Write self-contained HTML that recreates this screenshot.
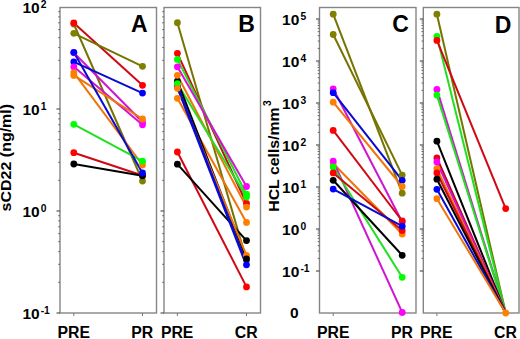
<!DOCTYPE html>
<html><head><meta charset="utf-8"><style>
html,body{margin:0;padding:0;background:#fff;}
svg{display:block;}
</style></head><body>
<svg width="520" height="339" viewBox="0 0 520 339">
<rect width="520" height="339" fill="#fff"/>
<rect x="60" y="7.5" width="96.5" height="305.5" fill="none" stroke="#858585" stroke-width="1.4"/>
<line x1="56.5" y1="313.0" x2="60" y2="313.0" stroke="#555" stroke-width="1.2"/>
<line x1="58.2" y1="282.3" x2="60" y2="282.3" stroke="#666" stroke-width="1"/>
<line x1="58.2" y1="264.3" x2="60" y2="264.3" stroke="#666" stroke-width="1"/>
<line x1="58.2" y1="251.6" x2="60" y2="251.6" stroke="#666" stroke-width="1"/>
<line x1="58.2" y1="241.7" x2="60" y2="241.7" stroke="#666" stroke-width="1"/>
<line x1="58.2" y1="233.6" x2="60" y2="233.6" stroke="#666" stroke-width="1"/>
<line x1="58.2" y1="226.8" x2="60" y2="226.8" stroke="#666" stroke-width="1"/>
<line x1="58.2" y1="220.9" x2="60" y2="220.9" stroke="#666" stroke-width="1"/>
<line x1="58.2" y1="215.7" x2="60" y2="215.7" stroke="#666" stroke-width="1"/>
<line x1="56.5" y1="211.0" x2="60" y2="211.0" stroke="#555" stroke-width="1.2"/>
<line x1="58.2" y1="180.3" x2="60" y2="180.3" stroke="#666" stroke-width="1"/>
<line x1="58.2" y1="162.3" x2="60" y2="162.3" stroke="#666" stroke-width="1"/>
<line x1="58.2" y1="149.6" x2="60" y2="149.6" stroke="#666" stroke-width="1"/>
<line x1="58.2" y1="139.7" x2="60" y2="139.7" stroke="#666" stroke-width="1"/>
<line x1="58.2" y1="131.6" x2="60" y2="131.6" stroke="#666" stroke-width="1"/>
<line x1="58.2" y1="124.8" x2="60" y2="124.8" stroke="#666" stroke-width="1"/>
<line x1="58.2" y1="118.9" x2="60" y2="118.9" stroke="#666" stroke-width="1"/>
<line x1="58.2" y1="113.7" x2="60" y2="113.7" stroke="#666" stroke-width="1"/>
<line x1="56.5" y1="109.0" x2="60" y2="109.0" stroke="#555" stroke-width="1.2"/>
<line x1="58.2" y1="78.3" x2="60" y2="78.3" stroke="#666" stroke-width="1"/>
<line x1="58.2" y1="60.3" x2="60" y2="60.3" stroke="#666" stroke-width="1"/>
<line x1="58.2" y1="47.6" x2="60" y2="47.6" stroke="#666" stroke-width="1"/>
<line x1="58.2" y1="37.7" x2="60" y2="37.7" stroke="#666" stroke-width="1"/>
<line x1="58.2" y1="29.6" x2="60" y2="29.6" stroke="#666" stroke-width="1"/>
<line x1="58.2" y1="22.8" x2="60" y2="22.8" stroke="#666" stroke-width="1"/>
<line x1="58.2" y1="16.9" x2="60" y2="16.9" stroke="#666" stroke-width="1"/>
<line x1="58.2" y1="11.7" x2="60" y2="11.7" stroke="#666" stroke-width="1"/>
<line x1="73.8" y1="313" x2="73.8" y2="316" stroke="#777" stroke-width="1"/>
<line x1="142.5" y1="313" x2="142.5" y2="316" stroke="#777" stroke-width="1"/>
<line x1="73.8" y1="24" x2="142.5" y2="181" stroke="#767400" stroke-width="2.0"/>
<line x1="73.8" y1="23" x2="142.5" y2="85.3" stroke="#d00814" stroke-width="2.0"/>
<line x1="73.8" y1="33.3" x2="142.5" y2="66.3" stroke="#767400" stroke-width="2.0"/>
<line x1="73.8" y1="52.8" x2="142.5" y2="122" stroke="#d014d0" stroke-width="2.0"/>
<line x1="73.8" y1="61.8" x2="142.5" y2="93.1" stroke="#0a0ad0" stroke-width="2.0"/>
<line x1="73.8" y1="66.8" x2="142.5" y2="124.8" stroke="#d014d0" stroke-width="2.0"/>
<line x1="73.8" y1="72.7" x2="142.5" y2="165" stroke="#f07408" stroke-width="2.0"/>
<line x1="73.8" y1="75.4" x2="142.5" y2="119" stroke="#f07408" stroke-width="2.0"/>
<line x1="73.8" y1="124.3" x2="142.5" y2="161.2" stroke="#20e020" stroke-width="2.0"/>
<line x1="73.8" y1="152.7" x2="142.5" y2="175.5" stroke="#d00814" stroke-width="2.0"/>
<line x1="73.8" y1="164" x2="142.5" y2="175.8" stroke="#000000" stroke-width="2.0"/>
<line x1="73.8" y1="52.3" x2="142.5" y2="173" stroke="#0a0ad0" stroke-width="2.0"/>
<circle cx="73.8" cy="24" r="3.4" fill="#808000"/>
<circle cx="73.8" cy="23" r="3.4" fill="#ff0000"/>
<circle cx="73.8" cy="33.3" r="3.4" fill="#808000"/>
<circle cx="73.8" cy="52.8" r="3.4" fill="#ff00ff"/>
<circle cx="73.8" cy="61.8" r="3.4" fill="#0000ff"/>
<circle cx="73.8" cy="66.8" r="3.4" fill="#ff00ff"/>
<circle cx="73.8" cy="72.7" r="3.4" fill="#ff8000"/>
<circle cx="73.8" cy="75.4" r="3.4" fill="#ff8000"/>
<circle cx="73.8" cy="124.3" r="3.4" fill="#00ff00"/>
<circle cx="73.8" cy="152.7" r="3.4" fill="#ff0000"/>
<circle cx="73.8" cy="164" r="3.4" fill="#000000"/>
<circle cx="73.8" cy="52.3" r="3.4" fill="#0000ff"/>
<circle cx="142.5" cy="181" r="3.4" fill="#808000"/>
<circle cx="142.5" cy="85.3" r="3.4" fill="#ff0000"/>
<circle cx="142.5" cy="66.3" r="3.4" fill="#808000"/>
<circle cx="142.5" cy="122" r="3.4" fill="#ff00ff"/>
<circle cx="142.5" cy="93.1" r="3.4" fill="#0000ff"/>
<circle cx="142.5" cy="124.8" r="3.4" fill="#ff00ff"/>
<circle cx="142.5" cy="165" r="3.4" fill="#ff8000"/>
<circle cx="142.5" cy="119" r="3.4" fill="#ff8000"/>
<circle cx="142.5" cy="161.2" r="3.4" fill="#00ff00"/>
<circle cx="142.5" cy="175.5" r="3.4" fill="#ff0000"/>
<circle cx="142.5" cy="175.8" r="3.4" fill="#000000"/>
<circle cx="142.5" cy="173" r="3.4" fill="#0000ff"/>
<rect x="164" y="7.5" width="96.5" height="305.5" fill="none" stroke="#858585" stroke-width="1.4"/>
<line x1="160.5" y1="313.0" x2="164" y2="313.0" stroke="#555" stroke-width="1.2"/>
<line x1="162.2" y1="282.3" x2="164" y2="282.3" stroke="#666" stroke-width="1"/>
<line x1="162.2" y1="264.3" x2="164" y2="264.3" stroke="#666" stroke-width="1"/>
<line x1="162.2" y1="251.6" x2="164" y2="251.6" stroke="#666" stroke-width="1"/>
<line x1="162.2" y1="241.7" x2="164" y2="241.7" stroke="#666" stroke-width="1"/>
<line x1="162.2" y1="233.6" x2="164" y2="233.6" stroke="#666" stroke-width="1"/>
<line x1="162.2" y1="226.8" x2="164" y2="226.8" stroke="#666" stroke-width="1"/>
<line x1="162.2" y1="220.9" x2="164" y2="220.9" stroke="#666" stroke-width="1"/>
<line x1="162.2" y1="215.7" x2="164" y2="215.7" stroke="#666" stroke-width="1"/>
<line x1="160.5" y1="211.0" x2="164" y2="211.0" stroke="#555" stroke-width="1.2"/>
<line x1="162.2" y1="180.3" x2="164" y2="180.3" stroke="#666" stroke-width="1"/>
<line x1="162.2" y1="162.3" x2="164" y2="162.3" stroke="#666" stroke-width="1"/>
<line x1="162.2" y1="149.6" x2="164" y2="149.6" stroke="#666" stroke-width="1"/>
<line x1="162.2" y1="139.7" x2="164" y2="139.7" stroke="#666" stroke-width="1"/>
<line x1="162.2" y1="131.6" x2="164" y2="131.6" stroke="#666" stroke-width="1"/>
<line x1="162.2" y1="124.8" x2="164" y2="124.8" stroke="#666" stroke-width="1"/>
<line x1="162.2" y1="118.9" x2="164" y2="118.9" stroke="#666" stroke-width="1"/>
<line x1="162.2" y1="113.7" x2="164" y2="113.7" stroke="#666" stroke-width="1"/>
<line x1="160.5" y1="109.0" x2="164" y2="109.0" stroke="#555" stroke-width="1.2"/>
<line x1="162.2" y1="78.3" x2="164" y2="78.3" stroke="#666" stroke-width="1"/>
<line x1="162.2" y1="60.3" x2="164" y2="60.3" stroke="#666" stroke-width="1"/>
<line x1="162.2" y1="47.6" x2="164" y2="47.6" stroke="#666" stroke-width="1"/>
<line x1="162.2" y1="37.7" x2="164" y2="37.7" stroke="#666" stroke-width="1"/>
<line x1="162.2" y1="29.6" x2="164" y2="29.6" stroke="#666" stroke-width="1"/>
<line x1="162.2" y1="22.8" x2="164" y2="22.8" stroke="#666" stroke-width="1"/>
<line x1="162.2" y1="16.9" x2="164" y2="16.9" stroke="#666" stroke-width="1"/>
<line x1="162.2" y1="11.7" x2="164" y2="11.7" stroke="#666" stroke-width="1"/>
<line x1="177.4" y1="313" x2="177.4" y2="316" stroke="#777" stroke-width="1"/>
<line x1="246.5" y1="313" x2="246.5" y2="316" stroke="#777" stroke-width="1"/>
<line x1="177.4" y1="22.7" x2="246.5" y2="260" stroke="#767400" stroke-width="2.0"/>
<line x1="177.4" y1="53.3" x2="246.5" y2="203.5" stroke="#d00814" stroke-width="2.0"/>
<line x1="177.4" y1="59.4" x2="246.5" y2="194.2" stroke="#20e020" stroke-width="2.0"/>
<line x1="177.4" y1="66.8" x2="246.5" y2="186.5" stroke="#d014d0" stroke-width="2.0"/>
<line x1="177.4" y1="75.3" x2="246.5" y2="207.1" stroke="#f07408" stroke-width="2.0"/>
<line x1="177.4" y1="83.6" x2="246.5" y2="197.1" stroke="#20e020" stroke-width="2.0"/>
<line x1="177.4" y1="98.3" x2="246.5" y2="222.4" stroke="#f07408" stroke-width="2.0"/>
<line x1="177.4" y1="152" x2="246.5" y2="286.9" stroke="#d00814" stroke-width="2.0"/>
<line x1="177.4" y1="164.2" x2="246.5" y2="240.6" stroke="#000000" stroke-width="2.0"/>
<line x1="177.4" y1="81.2" x2="246.5" y2="258.9" stroke="#000000" stroke-width="2.0"/>
<line x1="177.4" y1="88.3" x2="246.5" y2="255.4" stroke="#f07408" stroke-width="2.0"/>
<line x1="177.4" y1="86.5" x2="246.5" y2="264.8" stroke="#0a0ad0" stroke-width="2.8"/>
<circle cx="177.4" cy="86.5" r="3.4" fill="#0000ff"/>
<circle cx="177.4" cy="81.2" r="3.4" fill="#000000"/>
<circle cx="177.4" cy="22.7" r="3.4" fill="#808000"/>
<circle cx="177.4" cy="53.3" r="3.4" fill="#ff0000"/>
<circle cx="177.4" cy="59.4" r="3.4" fill="#00ff00"/>
<circle cx="177.4" cy="66.8" r="3.4" fill="#ff00ff"/>
<circle cx="177.4" cy="75.3" r="3.4" fill="#ff8000"/>
<circle cx="177.4" cy="83.6" r="3.4" fill="#00ff00"/>
<circle cx="177.4" cy="98.3" r="3.4" fill="#ff8000"/>
<circle cx="177.4" cy="152" r="3.4" fill="#ff0000"/>
<circle cx="177.4" cy="164.2" r="3.4" fill="#000000"/>
<circle cx="177.4" cy="88.3" r="3.4" fill="#ff8000"/>
<circle cx="246.5" cy="255.4" r="3.4" fill="#ff8000"/>
<circle cx="246.5" cy="260" r="3.4" fill="#808000"/>
<circle cx="246.5" cy="203.5" r="3.4" fill="#ff0000"/>
<circle cx="246.5" cy="194.2" r="3.4" fill="#00ff00"/>
<circle cx="246.5" cy="186.5" r="3.4" fill="#ff00ff"/>
<circle cx="246.5" cy="207.1" r="3.4" fill="#ff8000"/>
<circle cx="246.5" cy="197.1" r="3.4" fill="#00ff00"/>
<circle cx="246.5" cy="222.4" r="3.4" fill="#ff8000"/>
<circle cx="246.5" cy="286.9" r="3.4" fill="#ff0000"/>
<circle cx="246.5" cy="240.6" r="3.4" fill="#000000"/>
<circle cx="246.5" cy="258.9" r="3.4" fill="#000000"/>
<circle cx="246.5" cy="264.8" r="3.4" fill="#0000ff"/>
<rect x="319.5" y="7.5" width="96.5" height="305.5" fill="none" stroke="#858585" stroke-width="1.4"/>
<line x1="316.0" y1="271.0" x2="319.5" y2="271.0" stroke="#555" stroke-width="1.2"/>
<line x1="317.7" y1="258.4" x2="319.5" y2="258.4" stroke="#666" stroke-width="1"/>
<line x1="317.7" y1="251.0" x2="319.5" y2="251.0" stroke="#666" stroke-width="1"/>
<line x1="317.7" y1="245.7" x2="319.5" y2="245.7" stroke="#666" stroke-width="1"/>
<line x1="317.7" y1="241.6" x2="319.5" y2="241.6" stroke="#666" stroke-width="1"/>
<line x1="317.7" y1="238.3" x2="319.5" y2="238.3" stroke="#666" stroke-width="1"/>
<line x1="317.7" y1="235.5" x2="319.5" y2="235.5" stroke="#666" stroke-width="1"/>
<line x1="317.7" y1="233.1" x2="319.5" y2="233.1" stroke="#666" stroke-width="1"/>
<line x1="317.7" y1="230.9" x2="319.5" y2="230.9" stroke="#666" stroke-width="1"/>
<line x1="316.0" y1="229.0" x2="319.5" y2="229.0" stroke="#555" stroke-width="1.2"/>
<line x1="317.7" y1="216.4" x2="319.5" y2="216.4" stroke="#666" stroke-width="1"/>
<line x1="317.7" y1="209.0" x2="319.5" y2="209.0" stroke="#666" stroke-width="1"/>
<line x1="317.7" y1="203.7" x2="319.5" y2="203.7" stroke="#666" stroke-width="1"/>
<line x1="317.7" y1="199.6" x2="319.5" y2="199.6" stroke="#666" stroke-width="1"/>
<line x1="317.7" y1="196.3" x2="319.5" y2="196.3" stroke="#666" stroke-width="1"/>
<line x1="317.7" y1="193.5" x2="319.5" y2="193.5" stroke="#666" stroke-width="1"/>
<line x1="317.7" y1="191.1" x2="319.5" y2="191.1" stroke="#666" stroke-width="1"/>
<line x1="317.7" y1="188.9" x2="319.5" y2="188.9" stroke="#666" stroke-width="1"/>
<line x1="316.0" y1="187.0" x2="319.5" y2="187.0" stroke="#555" stroke-width="1.2"/>
<line x1="317.7" y1="174.4" x2="319.5" y2="174.4" stroke="#666" stroke-width="1"/>
<line x1="317.7" y1="167.0" x2="319.5" y2="167.0" stroke="#666" stroke-width="1"/>
<line x1="317.7" y1="161.7" x2="319.5" y2="161.7" stroke="#666" stroke-width="1"/>
<line x1="317.7" y1="157.6" x2="319.5" y2="157.6" stroke="#666" stroke-width="1"/>
<line x1="317.7" y1="154.3" x2="319.5" y2="154.3" stroke="#666" stroke-width="1"/>
<line x1="317.7" y1="151.5" x2="319.5" y2="151.5" stroke="#666" stroke-width="1"/>
<line x1="317.7" y1="149.1" x2="319.5" y2="149.1" stroke="#666" stroke-width="1"/>
<line x1="317.7" y1="146.9" x2="319.5" y2="146.9" stroke="#666" stroke-width="1"/>
<line x1="316.0" y1="145.0" x2="319.5" y2="145.0" stroke="#555" stroke-width="1.2"/>
<line x1="317.7" y1="132.4" x2="319.5" y2="132.4" stroke="#666" stroke-width="1"/>
<line x1="317.7" y1="125.0" x2="319.5" y2="125.0" stroke="#666" stroke-width="1"/>
<line x1="317.7" y1="119.7" x2="319.5" y2="119.7" stroke="#666" stroke-width="1"/>
<line x1="317.7" y1="115.6" x2="319.5" y2="115.6" stroke="#666" stroke-width="1"/>
<line x1="317.7" y1="112.3" x2="319.5" y2="112.3" stroke="#666" stroke-width="1"/>
<line x1="317.7" y1="109.5" x2="319.5" y2="109.5" stroke="#666" stroke-width="1"/>
<line x1="317.7" y1="107.1" x2="319.5" y2="107.1" stroke="#666" stroke-width="1"/>
<line x1="317.7" y1="104.9" x2="319.5" y2="104.9" stroke="#666" stroke-width="1"/>
<line x1="316.0" y1="103.0" x2="319.5" y2="103.0" stroke="#555" stroke-width="1.2"/>
<line x1="317.7" y1="90.4" x2="319.5" y2="90.4" stroke="#666" stroke-width="1"/>
<line x1="317.7" y1="83.0" x2="319.5" y2="83.0" stroke="#666" stroke-width="1"/>
<line x1="317.7" y1="77.7" x2="319.5" y2="77.7" stroke="#666" stroke-width="1"/>
<line x1="317.7" y1="73.6" x2="319.5" y2="73.6" stroke="#666" stroke-width="1"/>
<line x1="317.7" y1="70.3" x2="319.5" y2="70.3" stroke="#666" stroke-width="1"/>
<line x1="317.7" y1="67.5" x2="319.5" y2="67.5" stroke="#666" stroke-width="1"/>
<line x1="317.7" y1="65.1" x2="319.5" y2="65.1" stroke="#666" stroke-width="1"/>
<line x1="317.7" y1="62.9" x2="319.5" y2="62.9" stroke="#666" stroke-width="1"/>
<line x1="316.0" y1="61.0" x2="319.5" y2="61.0" stroke="#555" stroke-width="1.2"/>
<line x1="317.7" y1="48.4" x2="319.5" y2="48.4" stroke="#666" stroke-width="1"/>
<line x1="317.7" y1="41.0" x2="319.5" y2="41.0" stroke="#666" stroke-width="1"/>
<line x1="317.7" y1="35.7" x2="319.5" y2="35.7" stroke="#666" stroke-width="1"/>
<line x1="317.7" y1="31.6" x2="319.5" y2="31.6" stroke="#666" stroke-width="1"/>
<line x1="317.7" y1="28.3" x2="319.5" y2="28.3" stroke="#666" stroke-width="1"/>
<line x1="317.7" y1="25.5" x2="319.5" y2="25.5" stroke="#666" stroke-width="1"/>
<line x1="317.7" y1="23.1" x2="319.5" y2="23.1" stroke="#666" stroke-width="1"/>
<line x1="317.7" y1="20.9" x2="319.5" y2="20.9" stroke="#666" stroke-width="1"/>
<line x1="316.0" y1="19.0" x2="319.5" y2="19.0" stroke="#555" stroke-width="1.2"/>
<line x1="333.2" y1="313" x2="333.2" y2="316" stroke="#777" stroke-width="1"/>
<line x1="402.2" y1="313" x2="402.2" y2="316" stroke="#777" stroke-width="1"/>
<line x1="333.2" y1="14.2" x2="402.2" y2="193.2" stroke="#767400" stroke-width="2.0"/>
<line x1="333.2" y1="34.5" x2="402.2" y2="175.1" stroke="#767400" stroke-width="2.0"/>
<line x1="333.2" y1="88.8" x2="402.2" y2="222" stroke="#d014d0" stroke-width="2.0"/>
<line x1="333.2" y1="92.7" x2="402.2" y2="180.3" stroke="#0a0ad0" stroke-width="2.0"/>
<line x1="333.2" y1="102.2" x2="402.2" y2="186.5" stroke="#f07408" stroke-width="2.0"/>
<line x1="333.2" y1="130.4" x2="402.2" y2="221" stroke="#d00814" stroke-width="2.0"/>
<line x1="333.2" y1="163.5" x2="402.2" y2="234" stroke="#f07408" stroke-width="2.0"/>
<line x1="333.2" y1="161.1" x2="402.2" y2="312.4" stroke="#d014d0" stroke-width="2.0"/>
<line x1="333.2" y1="167" x2="402.2" y2="277.3" stroke="#20e020" stroke-width="2.0"/>
<line x1="333.2" y1="172.9" x2="402.2" y2="230.5" stroke="#d00814" stroke-width="2.0"/>
<line x1="333.2" y1="180.3" x2="402.2" y2="255.3" stroke="#000000" stroke-width="2.0"/>
<line x1="333.2" y1="189.1" x2="402.2" y2="226.2" stroke="#0a0ad0" stroke-width="2.0"/>
<circle cx="333.2" cy="14.2" r="3.4" fill="#808000"/>
<circle cx="333.2" cy="34.5" r="3.4" fill="#808000"/>
<circle cx="333.2" cy="88.8" r="3.4" fill="#ff00ff"/>
<circle cx="333.2" cy="92.7" r="3.4" fill="#0000ff"/>
<circle cx="333.2" cy="102.2" r="3.4" fill="#ff8000"/>
<circle cx="333.2" cy="130.4" r="3.4" fill="#ff0000"/>
<circle cx="333.2" cy="163.5" r="3.4" fill="#ff8000"/>
<circle cx="333.2" cy="161.1" r="3.4" fill="#ff00ff"/>
<circle cx="333.2" cy="167" r="3.4" fill="#00ff00"/>
<circle cx="333.2" cy="172.9" r="3.4" fill="#ff0000"/>
<circle cx="333.2" cy="180.3" r="3.4" fill="#000000"/>
<circle cx="333.2" cy="189.1" r="3.4" fill="#0000ff"/>
<circle cx="402.2" cy="193.2" r="3.4" fill="#808000"/>
<circle cx="402.2" cy="175.1" r="3.4" fill="#808000"/>
<circle cx="402.2" cy="222" r="3.4" fill="#ff00ff"/>
<circle cx="402.2" cy="180.3" r="3.4" fill="#0000ff"/>
<circle cx="402.2" cy="186.5" r="3.4" fill="#ff8000"/>
<circle cx="402.2" cy="221" r="3.4" fill="#ff0000"/>
<circle cx="402.2" cy="234" r="3.4" fill="#ff8000"/>
<circle cx="402.2" cy="312.4" r="3.4" fill="#ff00ff"/>
<circle cx="402.2" cy="277.3" r="3.4" fill="#00ff00"/>
<circle cx="402.2" cy="230.5" r="3.4" fill="#ff0000"/>
<circle cx="402.2" cy="255.3" r="3.4" fill="#000000"/>
<circle cx="402.2" cy="226.2" r="3.4" fill="#0000ff"/>
<rect x="423.3" y="7.5" width="95.69999999999999" height="305.5" fill="none" stroke="#858585" stroke-width="1.4"/>
<line x1="419.8" y1="271.0" x2="423.3" y2="271.0" stroke="#555" stroke-width="1.2"/>
<line x1="421.5" y1="258.4" x2="423.3" y2="258.4" stroke="#666" stroke-width="1"/>
<line x1="421.5" y1="251.0" x2="423.3" y2="251.0" stroke="#666" stroke-width="1"/>
<line x1="421.5" y1="245.7" x2="423.3" y2="245.7" stroke="#666" stroke-width="1"/>
<line x1="421.5" y1="241.6" x2="423.3" y2="241.6" stroke="#666" stroke-width="1"/>
<line x1="421.5" y1="238.3" x2="423.3" y2="238.3" stroke="#666" stroke-width="1"/>
<line x1="421.5" y1="235.5" x2="423.3" y2="235.5" stroke="#666" stroke-width="1"/>
<line x1="421.5" y1="233.1" x2="423.3" y2="233.1" stroke="#666" stroke-width="1"/>
<line x1="421.5" y1="230.9" x2="423.3" y2="230.9" stroke="#666" stroke-width="1"/>
<line x1="419.8" y1="229.0" x2="423.3" y2="229.0" stroke="#555" stroke-width="1.2"/>
<line x1="421.5" y1="216.4" x2="423.3" y2="216.4" stroke="#666" stroke-width="1"/>
<line x1="421.5" y1="209.0" x2="423.3" y2="209.0" stroke="#666" stroke-width="1"/>
<line x1="421.5" y1="203.7" x2="423.3" y2="203.7" stroke="#666" stroke-width="1"/>
<line x1="421.5" y1="199.6" x2="423.3" y2="199.6" stroke="#666" stroke-width="1"/>
<line x1="421.5" y1="196.3" x2="423.3" y2="196.3" stroke="#666" stroke-width="1"/>
<line x1="421.5" y1="193.5" x2="423.3" y2="193.5" stroke="#666" stroke-width="1"/>
<line x1="421.5" y1="191.1" x2="423.3" y2="191.1" stroke="#666" stroke-width="1"/>
<line x1="421.5" y1="188.9" x2="423.3" y2="188.9" stroke="#666" stroke-width="1"/>
<line x1="419.8" y1="187.0" x2="423.3" y2="187.0" stroke="#555" stroke-width="1.2"/>
<line x1="421.5" y1="174.4" x2="423.3" y2="174.4" stroke="#666" stroke-width="1"/>
<line x1="421.5" y1="167.0" x2="423.3" y2="167.0" stroke="#666" stroke-width="1"/>
<line x1="421.5" y1="161.7" x2="423.3" y2="161.7" stroke="#666" stroke-width="1"/>
<line x1="421.5" y1="157.6" x2="423.3" y2="157.6" stroke="#666" stroke-width="1"/>
<line x1="421.5" y1="154.3" x2="423.3" y2="154.3" stroke="#666" stroke-width="1"/>
<line x1="421.5" y1="151.5" x2="423.3" y2="151.5" stroke="#666" stroke-width="1"/>
<line x1="421.5" y1="149.1" x2="423.3" y2="149.1" stroke="#666" stroke-width="1"/>
<line x1="421.5" y1="146.9" x2="423.3" y2="146.9" stroke="#666" stroke-width="1"/>
<line x1="419.8" y1="145.0" x2="423.3" y2="145.0" stroke="#555" stroke-width="1.2"/>
<line x1="421.5" y1="132.4" x2="423.3" y2="132.4" stroke="#666" stroke-width="1"/>
<line x1="421.5" y1="125.0" x2="423.3" y2="125.0" stroke="#666" stroke-width="1"/>
<line x1="421.5" y1="119.7" x2="423.3" y2="119.7" stroke="#666" stroke-width="1"/>
<line x1="421.5" y1="115.6" x2="423.3" y2="115.6" stroke="#666" stroke-width="1"/>
<line x1="421.5" y1="112.3" x2="423.3" y2="112.3" stroke="#666" stroke-width="1"/>
<line x1="421.5" y1="109.5" x2="423.3" y2="109.5" stroke="#666" stroke-width="1"/>
<line x1="421.5" y1="107.1" x2="423.3" y2="107.1" stroke="#666" stroke-width="1"/>
<line x1="421.5" y1="104.9" x2="423.3" y2="104.9" stroke="#666" stroke-width="1"/>
<line x1="419.8" y1="103.0" x2="423.3" y2="103.0" stroke="#555" stroke-width="1.2"/>
<line x1="421.5" y1="90.4" x2="423.3" y2="90.4" stroke="#666" stroke-width="1"/>
<line x1="421.5" y1="83.0" x2="423.3" y2="83.0" stroke="#666" stroke-width="1"/>
<line x1="421.5" y1="77.7" x2="423.3" y2="77.7" stroke="#666" stroke-width="1"/>
<line x1="421.5" y1="73.6" x2="423.3" y2="73.6" stroke="#666" stroke-width="1"/>
<line x1="421.5" y1="70.3" x2="423.3" y2="70.3" stroke="#666" stroke-width="1"/>
<line x1="421.5" y1="67.5" x2="423.3" y2="67.5" stroke="#666" stroke-width="1"/>
<line x1="421.5" y1="65.1" x2="423.3" y2="65.1" stroke="#666" stroke-width="1"/>
<line x1="421.5" y1="62.9" x2="423.3" y2="62.9" stroke="#666" stroke-width="1"/>
<line x1="419.8" y1="61.0" x2="423.3" y2="61.0" stroke="#555" stroke-width="1.2"/>
<line x1="421.5" y1="48.4" x2="423.3" y2="48.4" stroke="#666" stroke-width="1"/>
<line x1="421.5" y1="41.0" x2="423.3" y2="41.0" stroke="#666" stroke-width="1"/>
<line x1="421.5" y1="35.7" x2="423.3" y2="35.7" stroke="#666" stroke-width="1"/>
<line x1="421.5" y1="31.6" x2="423.3" y2="31.6" stroke="#666" stroke-width="1"/>
<line x1="421.5" y1="28.3" x2="423.3" y2="28.3" stroke="#666" stroke-width="1"/>
<line x1="421.5" y1="25.5" x2="423.3" y2="25.5" stroke="#666" stroke-width="1"/>
<line x1="421.5" y1="23.1" x2="423.3" y2="23.1" stroke="#666" stroke-width="1"/>
<line x1="421.5" y1="20.9" x2="423.3" y2="20.9" stroke="#666" stroke-width="1"/>
<line x1="419.8" y1="19.0" x2="423.3" y2="19.0" stroke="#555" stroke-width="1.2"/>
<line x1="436.9" y1="313" x2="436.9" y2="316" stroke="#777" stroke-width="1"/>
<line x1="505.7" y1="313" x2="505.7" y2="316" stroke="#777" stroke-width="1"/>
<line x1="436.9" y1="14.2" x2="505.7" y2="313" stroke="#767400" stroke-width="2.0"/>
<line x1="436.9" y1="36.3" x2="505.7" y2="313" stroke="#20e020" stroke-width="2.0"/>
<line x1="436.9" y1="40.4" x2="505.7" y2="208.6" stroke="#d00814" stroke-width="2.0"/>
<line x1="436.9" y1="89.4" x2="505.7" y2="313" stroke="#d014d0" stroke-width="2.0"/>
<line x1="436.9" y1="95.1" x2="505.7" y2="313" stroke="#20e020" stroke-width="2.0"/>
<line x1="436.9" y1="141.2" x2="505.7" y2="313" stroke="#000000" stroke-width="2.0"/>
<line x1="436.9" y1="158" x2="505.7" y2="313" stroke="#c00020" stroke-width="2.0"/>
<line x1="436.9" y1="162" x2="505.7" y2="313" stroke="#d014d0" stroke-width="2.0"/>
<line x1="436.9" y1="168.6" x2="505.7" y2="313" stroke="#f07408" stroke-width="2.0"/>
<line x1="436.9" y1="173" x2="505.7" y2="313" stroke="#d00814" stroke-width="2.0"/>
<line x1="436.9" y1="179.2" x2="505.7" y2="313" stroke="#000000" stroke-width="2.0"/>
<line x1="436.9" y1="189.3" x2="505.7" y2="313" stroke="#0a0ad0" stroke-width="2.0"/>
<line x1="436.9" y1="198.7" x2="505.7" y2="313" stroke="#f07408" stroke-width="2.0"/>
<circle cx="436.9" cy="14.2" r="3.4" fill="#808000"/>
<circle cx="436.9" cy="36.3" r="3.4" fill="#00ff00"/>
<circle cx="436.9" cy="40.4" r="3.4" fill="#ff0000"/>
<circle cx="436.9" cy="89.4" r="3.4" fill="#ff00ff"/>
<circle cx="436.9" cy="95.1" r="3.4" fill="#00ff00"/>
<circle cx="436.9" cy="141.2" r="3.4" fill="#000000"/>
<circle cx="436.9" cy="158" r="3.4" fill="#e00020"/>
<circle cx="436.9" cy="162" r="3.4" fill="#ff00ff"/>
<circle cx="436.9" cy="168.6" r="3.4" fill="#ff8000"/>
<circle cx="436.9" cy="173" r="3.4" fill="#ff0000"/>
<circle cx="436.9" cy="179.2" r="3.4" fill="#000000"/>
<circle cx="436.9" cy="189.3" r="3.4" fill="#0000ff"/>
<circle cx="436.9" cy="198.7" r="3.4" fill="#ff8000"/>
<circle cx="505.7" cy="208.6" r="3.4" fill="#ff0000"/>
<circle cx="505.7" cy="313" r="3.4" fill="#ff8000"/>
<text x="22.4" y="12.9" font-family="Liberation Sans" font-weight="bold" font-size="15.5">10</text><text x="40.7" y="7.9" font-family="Liberation Sans" font-weight="bold" font-size="10.3">2</text>
<text x="22.4" y="114.9" font-family="Liberation Sans" font-weight="bold" font-size="15.5">10</text><text x="40.7" y="109.9" font-family="Liberation Sans" font-weight="bold" font-size="10.3">1</text>
<text x="22.4" y="216.9" font-family="Liberation Sans" font-weight="bold" font-size="15.5">10</text><text x="40.7" y="211.9" font-family="Liberation Sans" font-weight="bold" font-size="10.3">0</text>
<text x="22.4" y="318.9" font-family="Liberation Sans" font-weight="bold" font-size="15.5">10</text><text x="40.7" y="313.9" font-family="Liberation Sans" font-weight="bold" font-size="10.3">-1</text>
<text x="282.1" y="24.9" font-family="Liberation Sans" font-weight="bold" font-size="15.5">10</text><text x="300.40000000000003" y="19.9" font-family="Liberation Sans" font-weight="bold" font-size="10.3">5</text>
<text x="282.1" y="66.9" font-family="Liberation Sans" font-weight="bold" font-size="15.5">10</text><text x="300.40000000000003" y="61.900000000000006" font-family="Liberation Sans" font-weight="bold" font-size="10.3">4</text>
<text x="282.1" y="108.9" font-family="Liberation Sans" font-weight="bold" font-size="15.5">10</text><text x="300.40000000000003" y="103.9" font-family="Liberation Sans" font-weight="bold" font-size="10.3">3</text>
<text x="282.1" y="150.9" font-family="Liberation Sans" font-weight="bold" font-size="15.5">10</text><text x="300.40000000000003" y="145.9" font-family="Liberation Sans" font-weight="bold" font-size="10.3">2</text>
<text x="282.1" y="192.9" font-family="Liberation Sans" font-weight="bold" font-size="15.5">10</text><text x="300.40000000000003" y="187.9" font-family="Liberation Sans" font-weight="bold" font-size="10.3">1</text>
<text x="282.1" y="234.9" font-family="Liberation Sans" font-weight="bold" font-size="15.5">10</text><text x="300.40000000000003" y="229.9" font-family="Liberation Sans" font-weight="bold" font-size="10.3">0</text>
<text x="282.1" y="276.9" font-family="Liberation Sans" font-weight="bold" font-size="15.5">10</text><text x="300.40000000000003" y="271.9" font-family="Liberation Sans" font-weight="bold" font-size="10.3">-1</text>
<text x="290" y="317.6" font-family="Liberation Sans" font-weight="bold" font-size="15.5">0</text>
<text x="57.5" y="337.6" font-family="Liberation Sans" font-weight="bold" font-size="15.8">PRE</text>
<text x="131.3" y="337.6" font-family="Liberation Sans" font-weight="bold" font-size="15.8">PR</text>
<text x="160.9" y="337.6" font-family="Liberation Sans" font-weight="bold" font-size="15.8">PRE</text>
<text x="234.8" y="337.6" font-family="Liberation Sans" font-weight="bold" font-size="15.8">CR</text>
<text x="317" y="337.6" font-family="Liberation Sans" font-weight="bold" font-size="15.8">PRE</text>
<text x="391" y="337.6" font-family="Liberation Sans" font-weight="bold" font-size="15.8">PR</text>
<text x="420" y="337.6" font-family="Liberation Sans" font-weight="bold" font-size="15.8">PRE</text>
<text x="494" y="337.6" font-family="Liberation Sans" font-weight="bold" font-size="15.8">CR</text>
<text x="131" y="31.5" font-family="Liberation Sans" font-weight="bold" font-size="23">A</text>
<text x="238.3" y="31.5" font-family="Liberation Sans" font-weight="bold" font-size="23">B</text>
<text x="392.3" y="31.5" font-family="Liberation Sans" font-weight="bold" font-size="23">C</text>
<text x="494.8" y="32.5" font-family="Liberation Sans" font-weight="bold" font-size="23">D</text>
<text transform="translate(11,211.4) rotate(-90)" font-family="Liberation Sans" font-weight="bold" font-size="14.5" textLength="107.5" lengthAdjust="spacingAndGlyphs">sCD22 (ng/ml)</text>
<text transform="translate(279,211.8) rotate(-90)" font-family="Liberation Sans" font-weight="bold" font-size="15.3" textLength="104.5" lengthAdjust="spacingAndGlyphs">HCL cells/mm</text>
<text transform="translate(271.3,106) rotate(-90)" font-family="Liberation Sans" font-weight="bold" font-size="10.3">3</text>
</svg>
</body></html>
